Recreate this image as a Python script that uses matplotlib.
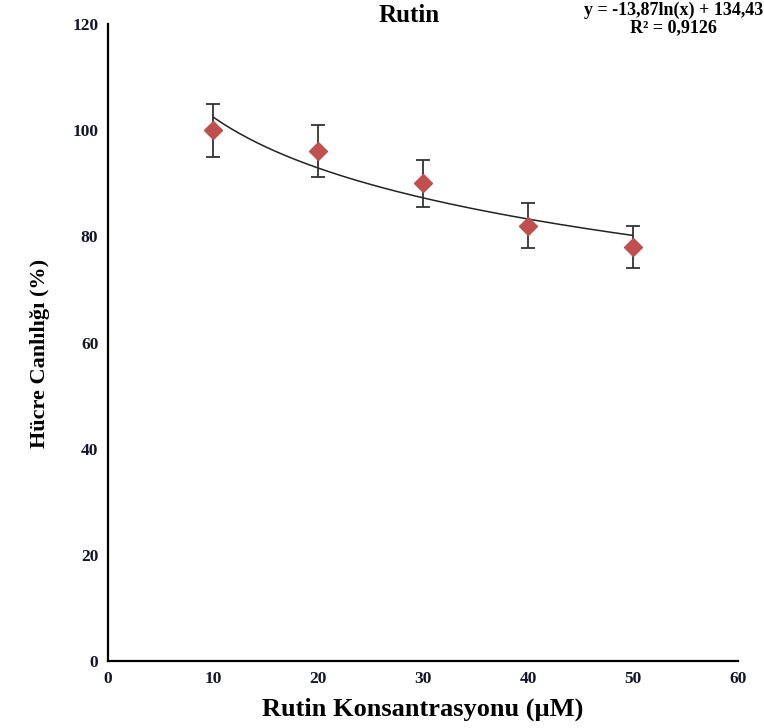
import numpy as np
import matplotlib.pyplot as plt

plt.rcParams['font.family'] = ['Liberation Serif', 'DejaVu Serif']
plt.rcParams['font.weight'] = 'bold'

konsantrasyon = [10, 20, 30, 40, 50]
canlilik = [100, 96, 90, 82, 78]
hata = [5.0, 4.9, 4.4, 4.2, 3.9]
# trend line coefficients as printed on the chart
a, b = -13.87, 134.43

fig = plt.figure(figsize=(7.64, 7.28), dpi=100)
ax = fig.add_axes([0.1414, 0.092, 0.8246, 0.875])

T = np.linspace(konsantrasyon[0], konsantrasyon[-1], 200)
ax.plot(T, a*np.log(T)+b, color='#222222', lw=1.1, zorder=2)

ax.errorbar(konsantrasyon, canlilik, yerr=hata, fmt='none', ecolor='#333333',
            elinewidth=1.3, capsize=5, capthick=1.3, zorder=3)
ax.plot(konsantrasyon, canlilik, 'D', color='#C0504D', ms=9, mec='#C0504D', zorder=4)

ax.set_xlim(0, 60)
ax.set_ylim(0, 120)
ax.set_xticks(range(0, 61, 10))
ax.set_yticks(range(0, 121, 20))
ax.tick_params(length=0, labelsize=12.5, pad=7, labelcolor='#14142a')
for s in ['top', 'right']:
    ax.spines[s].set_visible(False)
for s in ['left', 'bottom']:
    ax.spines[s].set_linewidth(1.6)

ax.set_xlabel('Rutin Konsantrasyonu (µM)', fontsize=19, fontweight='bold', labelpad=8)
ax.set_ylabel('Hücre Canlılığı (%)', fontsize=16, fontweight='bold')
ax.yaxis.set_label_coords(-0.092, 0.483)
fig.text(0.535, 0.994, 'Rutin', ha='center', va='top', fontsize=18, fontweight='bold')
fig.text(0.882, 0.998, 'y = -13,87ln(x) + 134,43\nR² = 0,9126', ha='center', va='top',
         fontsize=13, fontweight='bold', linespacing=1.0)

plt.savefig('out.png', dpi=100)
